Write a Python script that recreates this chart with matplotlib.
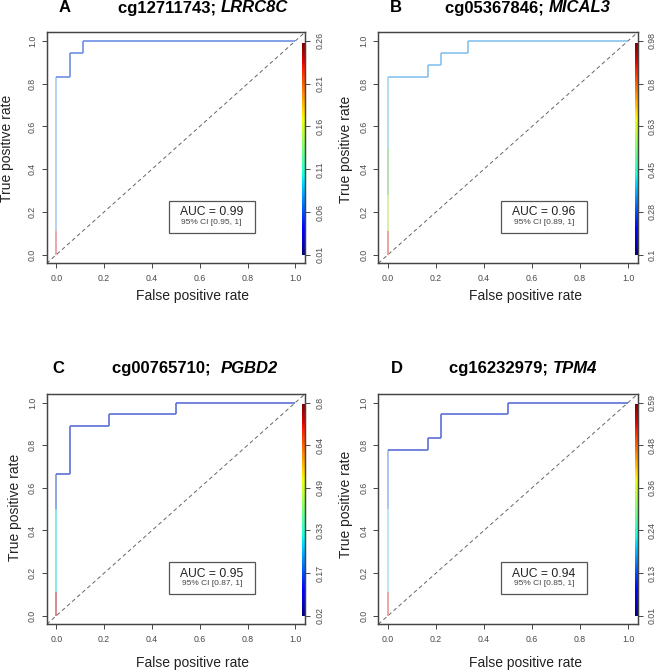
import numpy as np
import matplotlib
matplotlib.use("Agg")
import matplotlib.pyplot as plt
from matplotlib.patches import Rectangle

plt.rcParams['font.family'] = ['Liberation Sans', 'DejaVu Sans']

# ---------------- data ----------------
letters = ["A", "B", "C", "D"]
probe_ids = ["cg12711743; ", "cg05367846; ", "cg00765710;  ", "cg16232979; "]
genes = ["LRRC8C", "MICAL3", "PGBD2", "TPM4"]
auc_values = ["0.99", "0.96", "0.95", "0.94"]
ci_values = ["[0.95, 1]", "[0.89, 1]", "[0.87, 1]", "[0.85, 1]"]

fpr_A = [0, 0, 0, 0.056, 0.056, 0.111, 0.111, 1.0]
tpr_A = [0, 0.111, 0.833, 0.833, 0.944, 0.944, 1.0, 1.0]
fpr_B = [0, 0, 0, 0, 0, 0.167, 0.167, 0.222, 0.222, 0.333, 0.333, 1.0]
tpr_B = [0, 0.111, 0.278, 0.5, 0.833, 0.833, 0.889, 0.889, 0.944, 0.944, 1.0, 1.0]
fpr_C = [0, 0, 0, 0, 0.056, 0.056, 0.222, 0.222, 0.5, 0.5, 1.0]
tpr_C = [0, 0.111, 0.5, 0.667, 0.667, 0.889, 0.889, 0.944, 0.944, 1.0, 1.0]
fpr_D = [0, 0, 0, 0, 0.167, 0.167, 0.222, 0.222, 0.5, 0.5, 1.0]
tpr_D = [0, 0.111, 0.5, 0.778, 0.778, 0.833, 0.833, 0.944, 0.944, 1.0, 1.0]
fprs = [fpr_A, fpr_B, fpr_C, fpr_D]
tprs = [tpr_A, tpr_B, tpr_C, tpr_D]

cutoff_labels = [
    ["0.01", "0.06", "0.11", "0.16", "0.21", "0.26"],
    ["0.1", "0.28", "0.45", "0.63", "0.8", "0.98"],
    ["0.02", "0.17", "0.33", "0.49", "0.64", "0.8"],
    ["0.01", "0.13", "0.24", "0.36", "0.48", "0.59"],
]
axis_ticks = [0.0, 0.2, 0.4, 0.6, 0.8, 1.0]
axis_ticklabels = ["0.0", "0.2", "0.4", "0.6", "0.8", "1.0"]

# ---------------- style ----------------
seg_colors = [
    ["#e89a9a", "#a6cbf0"] + ["#6d90e4"] * 5,
    ["#e4968e", "#d4ec9c", "#a9dca6", "#a6d8f0"] + ["#88c2ee"] * 7,
    ["#d47474", "#74e0e8", "#7a98dc"] + ["#5c70d8"] * 7,
    ["#e89a9a", "#b2e4f0", "#a2b8ec"] + ["#5a70d8"] * 7,
]

W, H = 656, 670
fig = plt.figure(figsize=(W / 100, H / 100), dpi=100)

# axes boxes in pixels: left, top, right, bottom
boxes = [(46.7, 32.3, 305.0, 263.3), (378.3, 32.3, 637.7, 263.3),
         (46.7, 394.0, 305.0, 624.3), (378.3, 394.0, 637.7, 624.3)]
letter_pos = [(65, 8), (396, 8), (58, 368.3), (396.7, 368.3)]
title_pos = [(203, 8), (527.7, 8), (195, 368.3), (523, 368.3)]
xlabel_pos = [(193, 295.7), (525.7, 296), (193, 663), (525.7, 663)]
ylabel_pos = [(7, 148), (345.7, 149), (15, 507), (345.7, 504)]

tick_col = "#4a4a4a"

for i in range(4):
    l, t, r, b = boxes[i]
    ax = fig.add_axes([l / W, 1 - b / H, (r - l) / W, (b - t) / H])
    lim = (-0.04, 1.04)

    # colour bar
    grad = np.linspace(0, 1, 256).reshape(-1, 1)
    ax.imshow(grad, extent=[1.029, 1.04, 0.0, 0.99], origin="lower",
              cmap="jet", aspect="auto", zorder=2)

    # diagonal
    ax.plot([-0.04, 1.04], [-0.04, 1.04], color="#666666", lw=0.7,
            ls=(0, (4, 3)), zorder=1)

    # ROC curve coloured by segments
    fx, ty = fprs[i], tprs[i]
    for k in range(len(fx) - 1):
        ax.plot(fx[k:k + 2], ty[k:k + 2], color=seg_colors[i][k], lw=1.2,
                solid_capstyle="butt", zorder=3)

    ax.set_xlim(*lim)
    ax.set_ylim(*lim)
    ax.set_xticks(axis_ticks)
    ax.set_xticklabels(axis_ticklabels)
    ax.set_yticks(axis_ticks)
    ax.set_yticklabels(axis_ticklabels, rotation=90, va="center")
    ax.tick_params(axis="both", direction="out", length=3.5, width=0.7,
                   colors="#444444", labelcolor=tick_col, labelsize=6.3)
    ax.tick_params(axis="x", pad=4.0)
    ax.tick_params(axis="y", pad=3.5)
    for sp in ax.spines.values():
        sp.set_color("#444444")
        sp.set_linewidth(0.9)

    ax2 = ax.twinx()
    ax2.set_ylim(*lim)
    ax2.set_yticks(axis_ticks)
    ax2.set_yticklabels(cutoff_labels[i], rotation=90, va="center")
    ax2.tick_params(axis="y", direction="out", length=3.5, width=0.7,
                    colors="#444444", labelcolor=tick_col, labelsize=6.3,
                    pad=4.0)
    for sp in ax2.spines.values():
        sp.set_color("#444444")
        sp.set_linewidth(0.9)

    # AUC box
    ax.add_patch(Rectangle((0.47, 0.10), 0.36, 0.15, fill=False,
                           edgecolor="#555555", lw=0.9, zorder=4))
    ax.text(0.65, 0.198, "AUC = " + auc_values[i], ha="center", va="center",
            fontsize=8.7, color="#222222", zorder=5)
    ax.text(0.65, 0.149, "95% CI " + ci_values[i], ha="center", va="center",
            fontsize=6.0, color="#444444", zorder=5)

    # titles and labels
    lx, ly = letter_pos[i]
    fig.text(lx / W, 1 - ly / H, letters[i], ha="center", va="center",
             fontsize=12, fontweight="bold")
    tx, tyy = title_pos[i]
    t1 = fig.text(0, 0, probe_ids[i], fontsize=12, fontweight="bold")
    t2 = fig.text(0, 0, genes[i], fontsize=12, fontweight="bold",
                  fontstyle="italic")
    fig.canvas.draw()
    r_ = fig.canvas.get_renderer()
    w1 = t1.get_window_extent(r_).width
    w2 = t2.get_window_extent(r_).width
    x0 = tx - (w1 + w2) / 2
    t1.set_position((x0 / W, 1 - tyy / H))
    t1.set_va("center")
    t2.set_position(((x0 + w1) / W, 1 - tyy / H))
    t2.set_va("center")

    xlx, xly = xlabel_pos[i]
    fig.text(xlx / W, 1 - xly / H, "False positive rate", ha="center",
             va="center", fontsize=10, color="#222222")
    ylx, yly = ylabel_pos[i]
    fig.text(ylx / W, 1 - yly / H, "True positive rate", ha="center",
             va="center", fontsize=10, rotation=90, color="#222222")

fig.savefig("out.png", dpi=100, facecolor="white")
